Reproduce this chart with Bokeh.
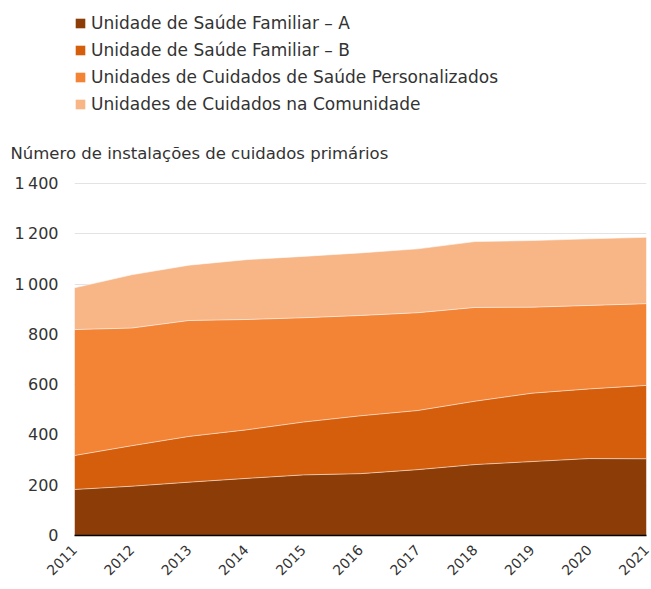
import numpy as np
from math import pi
from bokeh.plotting import figure
from bokeh.layouts import column
from bokeh.models import ColumnDataSource, Legend, LegendItem, FixedTicker, Range1d
from bokeh.embed import file_html
from bokeh.resources import INLINE

years = [2011, 2012, 2013, 2014, 2015, 2016, 2017, 2018, 2019, 2020, 2021]
usf_a = [183, 196, 212, 227, 241, 246, 262, 282, 294, 306, 305]
usf_b = [135, 161, 182, 193, 210, 230, 235, 252, 272, 277, 292]
ucsp = [501, 468, 461, 439, 415, 399, 389, 373, 342, 332, 325]
ucc = [166, 212, 220, 238, 244, 249, 254, 262, 265, 265, 264]

series_keys = ["usf_a", "usf_b", "ucsp", "ucc"]
series_names = [
    "Unidade de Saúde Familiar – A",
    "Unidade de Saúde Familiar – B",
    "Unidades de Cuidados de Saúde Personalizados",
    "Unidades de Cuidados na Comunidade",
]
colors = ["#8C3D07", "#D45E0B", "#F38335", "#F8B586"]
y_ticks = [0, 200, 400, 600, 800, 1000, 1200, 1400]
y_tick_labels = ["0", "200", "400", "600", "800", "1\u2009000", "1\u2009200", "1\u2009400"]
axis_title = "Número de instalações de cuidados primários"

FONT = "DejaVu Sans"
TEXT = "#333333"

W = 651
HEADER_H = 115
MAIN_H = 589 - HEADER_H
PAD_PX = 2                       # small headroom so the top gridline is not clipped
FRAME_H = 352                    # pixel height of 0..1400
y_end = max(y_ticks) * (FRAME_H + PAD_PX) / FRAME_H

source = ColumnDataSource(dict(x=years, usf_a=usf_a, usf_b=usf_b, ucsp=ucsp, ucc=ucc))

# ---------- header: legend ----------
hdr = figure(width=W, height=HEADER_H, output_backend="svg", toolbar_location=None,
             x_range=Range1d(0, 1), y_range=Range1d(0, 1),
             x_axis_location=None, y_axis_location=None,
             min_border_left=74, min_border_right=5, min_border_top=0, min_border_bottom=0)
hdr.outline_line_color = None
hdr.grid.grid_line_color = None
# same stacked series (outside the header's visible range) just to feed the legend swatches
hdr_renderers = hdr.varea_stack(series_keys, x="x", color=colors, source=source)

items = [LegendItem(label=n, renderers=[r]) for n, r in zip(series_names, hdr_renderers)]
legend = Legend(items=items, location=(0, 1), orientation="vertical")
legend.label_text_font = FONT
legend.label_text_font_size = "17px"
legend.label_text_color = TEXT
legend.glyph_width = 12
legend.glyph_height = 12
legend.label_standoff = 5
legend.label_height = 20
legend.spacing = 7
legend.padding = 0
legend.margin = 0
legend.border_line_color = None
legend.background_fill_alpha = 0
hdr.add_layout(legend, "center")

# ---------- main chart ----------
p = figure(width=W, height=MAIN_H, output_backend="svg", toolbar_location=None,
           x_range=Range1d(2011, 2021), y_range=Range1d(0, y_end),
           min_border_left=74, min_border_right=5, min_border_bottom=54,
           min_border_top=183 - HEADER_H - PAD_PX, title=axis_title)
p.outline_line_color = None
p.title.text_font = FONT
p.title.text_font_size = "16.5px"
p.title.text_font_style = "normal"
p.title.text_color = TEXT
p.title.align = "left"
p.title.offset = -64
p.title.standoff = 38

renderers = p.varea_stack(series_keys, x="x", color=colors, source=source)

stacked = np.cumsum(np.array([usf_a, usf_b, ucsp, ucc]), axis=0)
for row in stacked:
    p.line(years, row, line_color="white", line_alpha=0.55, line_width=1)

p.xaxis.ticker = FixedTicker(ticks=years)
p.xaxis.major_label_orientation = pi / 4
p.xaxis.major_tick_line_color = None
p.xaxis.minor_tick_line_color = None
p.xaxis.axis_line_color = "black"
p.xaxis.axis_line_width = 1.5
p.xaxis.major_label_text_font = FONT
p.xaxis.major_label_text_font_size = "14px"
p.xaxis.major_label_text_color = TEXT
p.xaxis.major_label_standoff = 6

p.yaxis.ticker = FixedTicker(ticks=y_ticks)
p.yaxis.major_label_overrides = {t: l for t, l in zip(y_ticks, y_tick_labels)}
p.yaxis.axis_line_color = None
p.yaxis.major_tick_line_color = None
p.yaxis.minor_tick_line_color = None
p.yaxis.major_label_text_font = FONT
p.yaxis.major_label_text_font_size = "16px"
p.yaxis.major_label_text_color = TEXT
p.yaxis.major_label_standoff = 10

p.xgrid.grid_line_color = None
p.ygrid.grid_line_color = "#E3E3E3"
p.ygrid.grid_line_width = 1

layout = column(hdr, p, spacing=0)
open("out.html", "w").write(file_html(layout, INLINE))
